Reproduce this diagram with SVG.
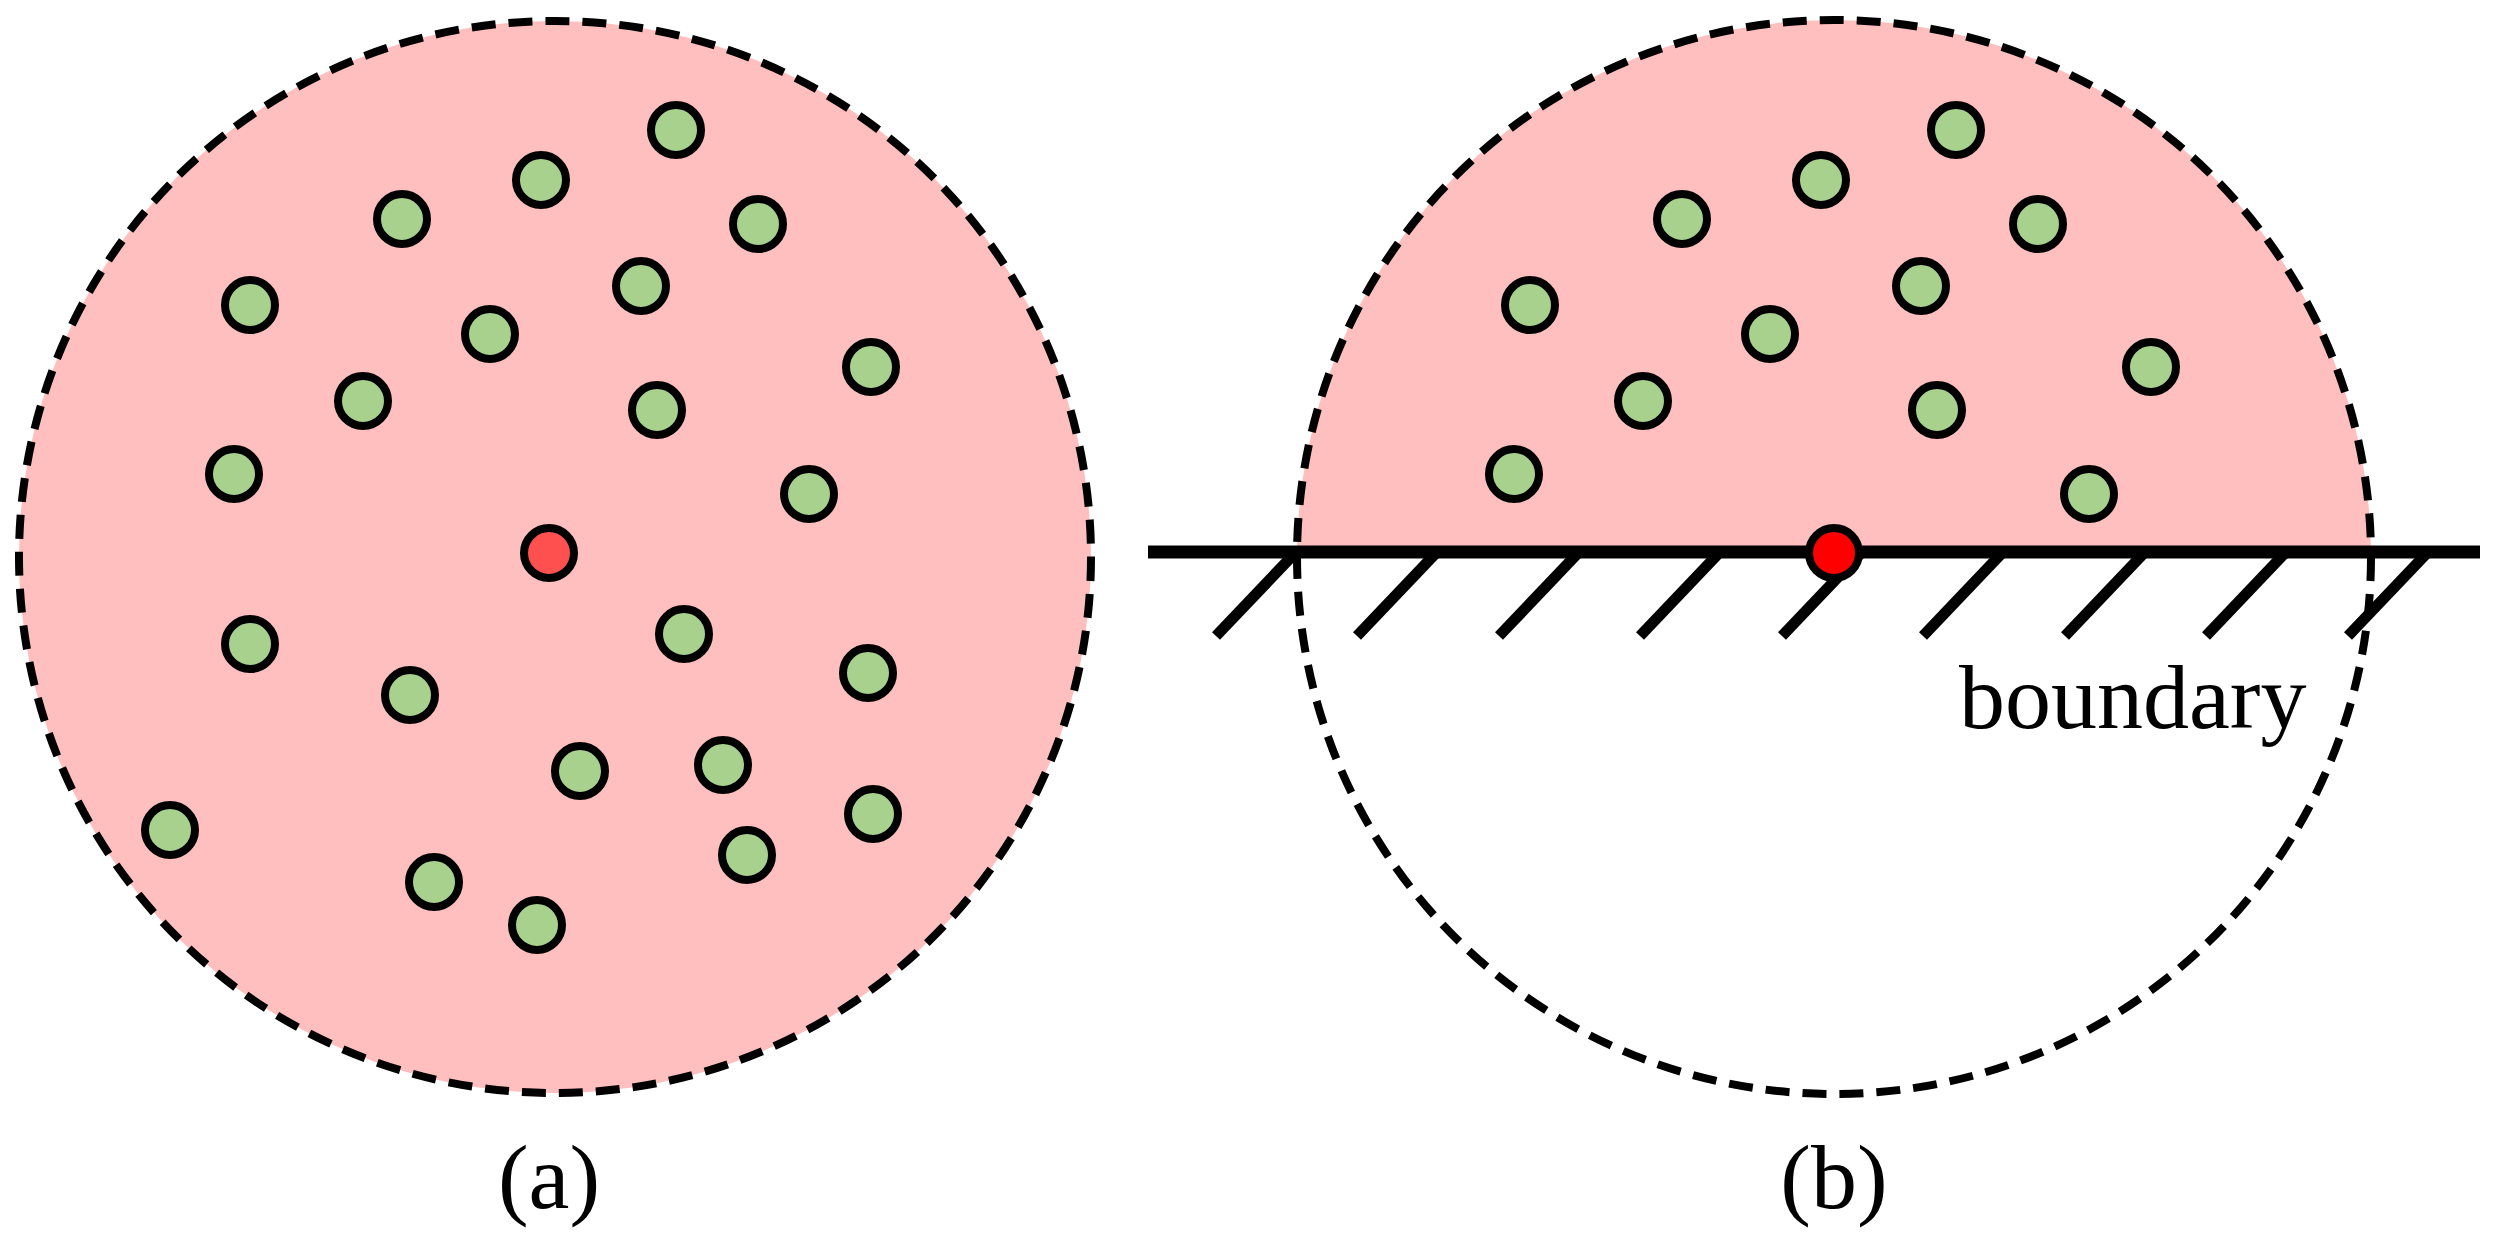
<svg xmlns="http://www.w3.org/2000/svg" width="2493" height="1240" viewBox="0 0 2493 1240">
<style>
.g{fill:#A9D18E;stroke:#000;stroke-width:8}
.r{stroke:#000;stroke-width:8}
.dash{fill:none;stroke:#000;stroke-width:8;stroke-dasharray:24 13}
.lbl{font-family:"Liberation Serif",serif;fill:#000}
.h{stroke:#000;stroke-width:11}
</style>
<defs><clipPath id="top"><rect x="0" y="0" width="2493" height="552"/></clipPath></defs>
<rect width="2493" height="1240" fill="#fff"/>
<g id="panel-a">
<circle cx="555" cy="557" r="536" fill="#FFBFBF"/>
<circle class="dash" cx="555" cy="557" r="536"/>
<g id="dots-a">
<circle class="g" cx="676" cy="130" r="25"/><circle class="g" cx="541" cy="180" r="25"/>
<circle class="g" cx="402" cy="219" r="25"/><circle class="g" cx="758" cy="224" r="25"/>
<circle class="g" cx="250" cy="305" r="25"/><circle class="g" cx="641" cy="286" r="25"/>
<circle class="g" cx="490" cy="334" r="25"/><circle class="g" cx="871" cy="367" r="25"/>
<circle class="g" cx="363" cy="401" r="25"/><circle class="g" cx="657" cy="410" r="25"/>
<circle class="g" cx="234" cy="474" r="25"/><circle class="g" cx="809" cy="494" r="25"/>
<circle class="g" cx="250" cy="644" r="25"/><circle class="g" cx="684" cy="634" r="25"/>
<circle class="g" cx="410" cy="695" r="25"/><circle class="g" cx="868" cy="673" r="25"/>
<circle class="g" cx="580" cy="771" r="25"/><circle class="g" cx="723" cy="765" r="25"/>
<circle class="g" cx="170" cy="830" r="25"/><circle class="g" cx="873" cy="814" r="25"/>
<circle class="g" cx="434" cy="882" r="25"/><circle class="g" cx="747" cy="855" r="25"/>
<circle class="g" cx="537" cy="925" r="25"/>
</g>
<circle id="red-a" class="r" cx="549" cy="553" r="25" fill="#FF5050"/>
<text class="lbl" x="549" y="1208" font-size="92" text-anchor="middle">(a)</text>
</g>
<g id="panel-b">
<circle cx="1834" cy="557" r="537" fill="#FFBFBF" clip-path="url(#top)"/>
<circle class="dash" cx="1834" cy="557" r="537"/>
<g id="dots-b">
<circle class="g" cx="1956" cy="130" r="25"/><circle class="g" cx="1821" cy="180" r="25"/>
<circle class="g" cx="1682" cy="219" r="25"/><circle class="g" cx="2038" cy="224" r="25"/>
<circle class="g" cx="1530" cy="305" r="25"/><circle class="g" cx="1921" cy="286" r="25"/>
<circle class="g" cx="1770" cy="334" r="25"/><circle class="g" cx="2151" cy="367" r="25"/>
<circle class="g" cx="1643" cy="401" r="25"/><circle class="g" cx="1937" cy="410" r="25"/>
<circle class="g" cx="1514" cy="474" r="25"/><circle class="g" cx="2089" cy="494" r="25"/>
</g>
<g id="boundary">
<line x1="1148" y1="552" x2="2480" y2="552" stroke="#000" stroke-width="13"/>
<line class="h" x1="1296" y1="552" x2="1216" y2="636"/>
<line class="h" x1="1437" y1="552" x2="1357" y2="636"/>
<line class="h" x1="1579" y1="552" x2="1499" y2="636"/>
<line class="h" x1="1720" y1="552" x2="1640" y2="636"/>
<line class="h" x1="1862" y1="552" x2="1782" y2="636"/>
<line class="h" x1="2003" y1="552" x2="1923" y2="636"/>
<line class="h" x1="2145" y1="552" x2="2065" y2="636"/>
<line class="h" x1="2286" y1="552" x2="2206" y2="636"/>
<line class="h" x1="2428" y1="552" x2="2348" y2="636"/>
</g>
<circle id="red-b" class="r" cx="1834" cy="553" r="25" fill="#FF0000"/>
<text class="lbl" x="1959" y="728" font-size="92">boundary</text>
<text class="lbl" x="1834" y="1208" font-size="92" text-anchor="middle">(b)</text>
</g>
</svg>
